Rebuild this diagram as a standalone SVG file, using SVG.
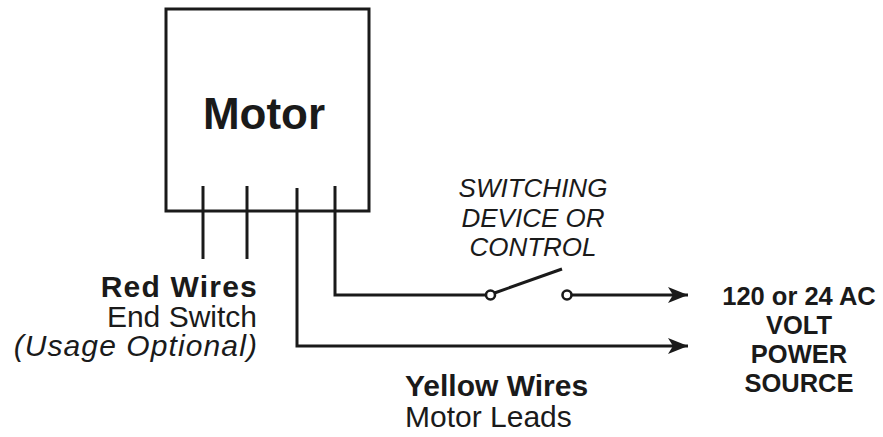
<svg xmlns="http://www.w3.org/2000/svg" width="883" height="437" viewBox="0 0 883 437">
<style>
.ln{fill:none;stroke:#1a1a1a;stroke-width:3}
.t{font-family:"Liberation Sans",Arial,sans-serif;fill:#1a1a1a}
.b{font-weight:bold}
.i{font-style:italic}
</style>
<defs>
<marker id="arr" viewBox="0 0 20 16" refX="20" refY="8" markerWidth="20" markerHeight="16" markerUnits="userSpaceOnUse" orient="auto">
<path d="M20,8 L0,0 L5,8 L0,16 Z" fill="#1a1a1a"/>
</marker>
</defs>
<rect width="883" height="437" fill="#fff"/>
<g id="motor">
<rect class="ln" x="166" y="9" width="203" height="202"/>
<text class="t b" x="264" y="129" font-size="44" text-anchor="middle">Motor</text>
</g>
<g id="connectors">
<line class="ln" x1="203" y1="186" x2="203" y2="259"/>
<line class="ln" x1="247" y1="186" x2="247" y2="259"/>
<path class="ln" d="M297,188 V346 H688" marker-end="url(#arr)"/>
<path class="ln" d="M335,186 V295 H486"/>
<line class="ln" x1="494.5" y1="293" x2="562" y2="269"/>
<line class="ln" x1="571" y1="295" x2="688" y2="295" marker-end="url(#arr)"/>
</g>
<g id="switch">
<circle cx="490.5" cy="295" r="4.5" fill="#fff" stroke="#1a1a1a" stroke-width="2.6"/>
<circle cx="567" cy="295" r="4.5" fill="#fff" stroke="#1a1a1a" stroke-width="2.6"/>
<text class="t i" font-size="26" text-anchor="middle"><tspan x="533" y="197">SWITCHING</tspan><tspan x="533" y="226.5">DEVICE OR</tspan><tspan x="533" y="255.5">CONTROL</tspan></text>
</g>
<g id="red-wires">
<text class="t b" x="258" y="297" font-size="30" letter-spacing="1.2" text-anchor="end">Red Wires</text>
<text class="t" x="257" y="327" font-size="30" text-anchor="end">End Switch</text>
<text class="t i" x="258" y="356" font-size="30" letter-spacing="1.1" text-anchor="end">(Usage Optional)</text>
</g>
<g id="yellow-wires">
<text class="t b" x="405" y="396" font-size="30">Yellow Wires</text>
<text class="t" x="405" y="427" font-size="30">Motor Leads</text>
</g>
<g id="power">
<text class="t b" font-size="25.5" text-anchor="middle"><tspan x="799" y="305">120 or 24 AC</tspan><tspan x="799" y="334">VOLT</tspan><tspan x="799" y="363">POWER</tspan><tspan x="799" y="392">SOURCE</tspan></text>
</g>
</svg>
